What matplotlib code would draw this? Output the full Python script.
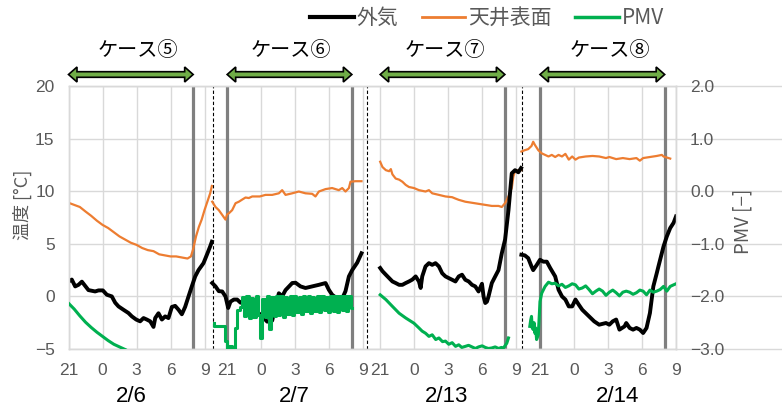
import numpy as np
import matplotlib.pyplot as plt
import matplotlib.transforms as mtransforms
from matplotlib.patches import Polygon
from matplotlib.lines import Line2D

plt.rcParams['font.family'] = ['Noto Sans CJK JP', 'DejaVu Sans']

# --- data (hours after 21:00 of each case) ---
cases = ['ケース⑤', 'ケース⑥', 'ケース⑦', 'ケース⑧']
dates = ['2/6', '2/7', '2/13', '2/14']
hour_ticks = [0, 3, 6, 9, 12]
hour_labels = ['21', '0', '3', '6', '9']

# case 5 (2/6)
t_out5 = [0, 0.29, 0.59, 0.88, 1.18, 1.47, 1.76, 2.35, 2.65, 3.03, 3.38, 3.82, 4.12, 4.41, 4.85,
          5.29, 5.59, 5.97, 6.32, 6.62, 6.91, 7.21, 7.5, 7.65, 7.94, 8.24, 8.53, 8.82, 9.12, 9.41,
          9.71, 10.0, 10.29, 10.59, 10.88, 11.18, 11.47, 11.91, 12.21, 12.5, 12.65]
out5 = [1.4, 1.6, 0.95, 1.1, 1.4, 1.0, 0.6, 0.47, 0.57, 0.57, 0.16, 0.0, -0.6, -0.95, -1.27,
        -1.58, -1.9, -2.2, -2.37, -2.06, -2.2, -2.37, -2.9, -2.06, -1.6, -2.2, -1.9, -2.06, -1.0, -0.9,
        -1.27, -1.7, -1.0, 0.0, 0.95, 1.9, 2.5, 3.16, 3.96, 4.75, 5.2]
t_ceil5 = [0, 0.5, 1.0, 1.5, 2.0, 2.5, 3.0, 3.5, 4.0, 4.5, 5.0, 5.5, 6.0, 6.5, 7.0, 7.5, 8.0,
           8.5, 9.0, 9.5, 10.0, 10.5, 10.8, 11.0, 11.25, 11.5, 11.75, 12.0, 12.25, 12.5, 12.65]
ceil5 = [8.9, 8.7, 8.5, 8.07, 7.66, 7.2, 6.8, 6.5, 6.1, 5.7, 5.4, 5.1, 4.9, 4.6, 4.4, 4.3, 4.0,
         3.9, 3.8, 3.8, 3.7, 3.6, 3.8, 4.5, 5.7, 6.6, 7.3, 8.2, 9.0, 9.8, 10.5]
t_pmv5 = [0, 0.5, 1.0, 1.5, 2.0, 2.5, 3.0, 3.5, 4.0, 4.5, 5.0]
pmv5 = [-2.13, -2.24, -2.37, -2.49, -2.59, -2.68, -2.76, -2.84, -2.91, -2.96, -3.01]

# case 6 (2/7)
t_out6 = [-1.32, -1.03, -0.74, -0.44, -0.15, 0.09, 0.29, 0.59, 0.88, 1.18, 1.47, 1.91, 2.35, 2.79,
          3.09, 3.53, 3.97, 4.26, 4.56, 4.85, 5.15, 5.74, 6.03, 6.47, 6.91, 7.5, 8.09, 8.68, 8.97,
          9.26, 9.7, 10.15, 10.44, 10.74, 11.03, 11.47, 11.85]
out6 = [1.27, 0.95, 0.5, 0.47, 0.0, -1.1, -0.5, -0.3, -0.3, -0.6, -0.4, -1.0, -1.5, -1.6,
        -1.9, -2.4, -2.3, -1.0, 0.3, 0.0, 0.6, 1.27, 1.3, 0.95, 0.8, 0.95, 1.1, 1.27, 0.63,
        0.16, -0.2, -0.2, 0.5, 1.9, 2.5, 3.2, 4.1]
t_ceil6 = [-1.32, -1.03, -0.74, -0.44, -0.15, 0.0, 0.15, 0.44, 0.74, 1.03, 1.32, 1.62, 1.91, 2.21,
           2.88, 3.38, 3.97, 4.56, 4.85, 5.15, 5.74, 6.32, 6.91, 7.5, 7.79, 8.09, 8.68, 9.26, 9.85,
           10.15, 10.44, 10.74, 10.88, 11.32, 11.85]
ceil6 = [9.0, 8.5, 8.2, 7.75, 7.3, 7.8, 7.9, 8.2, 8.86, 9.0, 9.2, 9.4, 9.35, 9.5,
         9.5, 9.65, 9.65, 9.8, 10.1, 9.65, 9.8, 9.97, 9.8, 9.75, 9.5, 9.97, 10.2, 10.3, 10.1,
         10.3, 9.97, 10.3, 10.9, 10.95, 10.95]
t_pmv6 = [-1.17, -1.1, -0.3, -0.1, 0.0, 0.3, 0.6, 0.8, 1.0,
          1.2, 1.4, 1.6, 1.8, 2.0, 2.2, 2.4, 2.6, 2.8, 3.0, 3.2, 3.4, 3.6, 3.8, 4.0, 4.2, 4.4,
          4.6, 4.8, 5.0, 5.2, 5.4, 5.6, 5.8, 6.0, 6.2, 6.4, 6.6, 6.8, 7.0, 7.2, 7.4, 7.6, 7.8,
          8.0, 8.2, 8.4, 8.6, 8.8, 9.0, 9.2, 9.4, 9.6, 9.8, 10.0, 10.2, 10.4, 10.6, 10.8, 11.0]
pmv6 = [-2.50, -2.57, -2.57, -2.85, -3.05, -2.95, -3.05, -2.6, -2.26,
        -2.20, -2.02, -2.38, -2.00, -2.42, -2.03, -2.40, -2.00, -2.36, -2.80, -2.05, -2.40, -2.00,
        -2.62, -2.02, -2.38, -2.00, -2.35, -2.00, -2.40, -2.02, -2.33, -2.00, -2.36, -2.00, -2.30,
        -2.02, -2.34, -2.00, -2.28, -2.00, -2.32, -2.01, -2.28, -2.00, -2.30, -2.00, -2.26, -2.02,
        -2.30, -2.00, -2.27, -2.00, -2.30, -2.00, -2.25, -2.00, -2.28, -2.00, -2.22]

# case 7 (2/13)
t_out7 = [0, 0.2, 0.5, 0.79, 1.08, 1.37, 1.67, 1.96, 2.25, 2.54, 2.84, 3.13, 3.42, 3.57, 3.71,
          4.0, 4.3, 4.59, 4.88, 5.18, 5.47, 5.76, 6.05, 6.35, 6.64, 6.93, 7.22, 7.51, 7.81, 8.1,
          8.39, 8.68, 8.98, 9.12, 9.27, 9.42, 9.56, 9.85, 10.15, 10.44, 10.73, 11.02, 11.32,
          11.61, 11.9, 12.19, 12.43]
out7 = [2.7, 2.4, 2.06, 1.74, 1.42, 1.27, 1.1, 1.1, 1.27, 1.42, 1.6, 1.9, 1.42, 0.8, 1.9,
        2.85, 3.16, 3.0, 3.16, 2.85, 2.2, 1.9, 1.74, 1.58, 1.42, 1.9, 2.06, 1.58, 1.42, 1.1,
        0.95, 0.47, 1.2, 0.0, -0.63, -0.5, 0.0, 1.27, 1.9, 2.5, 4.1, 5.4, 8.2,
        11.7, 12.0, 11.8, 12.2]
t_ceil7 = [0, 0.2, 0.5, 0.79, 0.94, 1.08, 1.37, 1.67, 1.96, 2.25, 2.54, 2.98, 3.42, 4.0, 4.3,
           4.59, 5.18, 5.76, 6.35, 6.64, 6.93, 7.51, 8.1, 8.68, 9.27, 9.85, 10.44, 10.73, 11.02,
           11.32, 11.61, 11.75, 11.9, 12.19, 12.43]
ceil7 = [12.8, 12.3, 12.0, 11.9, 12.1, 11.6, 11.2, 11.1, 10.9, 10.6, 10.4, 10.3, 10.1, 9.97, 10.1,
         9.8, 9.65, 9.5, 9.43, 9.3, 9.18, 9.0, 8.9, 8.8, 8.7, 8.6, 8.6, 8.5, 8.86,
         9.5, 10.3, 11.4, 11.9, 12.0, 12.0]
t_pmv7 = [0, 0.5, 1.08, 1.67, 2.25, 2.98, 3.42, 3.7, 4.0, 4.3, 4.59, 4.9, 5.18, 5.5, 5.76, 6.05,
          6.35, 6.65, 6.93, 7.2, 7.51, 7.8, 8.1, 8.4, 8.68, 9.0, 9.27, 9.55, 9.85, 10.15, 10.44,
          10.7, 10.88, 11.17, 11.32]
pmv7 = [-1.97, -2.06, -2.19, -2.32, -2.41, -2.51, -2.6, -2.66, -2.70, -2.76, -2.73, -2.82, -2.79,
        -2.86, -2.85, -2.91, -2.88, -2.95, -2.92, -2.97, -2.95, -2.93, -2.96, -2.99, -2.96, -2.94,
        -2.97, -2.99, -2.98, -2.96, -2.99, -2.97, -2.98, -2.89, -2.79]

# case 8 (2/14)
t_out8 = [-1.64, -1.34, -1.04, -0.75, -0.6, -0.3, 0, 0.3, 0.6, 0.9, 1.34, 1.64, 1.94, 2.24, 2.54,
          2.84, 3.13, 3.43, 3.73, 4.33, 4.78, 5.22, 5.82, 6.12, 6.42, 6.72, 7.01, 7.46, 7.61, 7.91,
          8.21, 8.51, 8.81, 9.1, 9.4, 9.7, 10.0, 10.3, 10.45, 10.9, 11.19, 11.49, 11.79, 12.0]
out8 = [3.96, 3.9, 3.64, 2.85, 2.5, 2.97, 3.48, 3.3, 3.3, 2.7, 1.9, 0.63, 0.0, -0.3, -0.95,
        -0.95, -0.3, -0.8, -1.27, -1.9, -2.37, -2.69, -2.53, -2.69, -2.37, -2.2, -3.16, -2.85, -2.53,
        -3.0, -3.16, -3.0, -3.16, -3.48, -3.0, -1.58, 0.95, 2.2, 2.85, 4.75, 5.7, 6.5, 7.0, 7.6]
t_ceil8 = [-1.64, -1.34, -1.04, -0.75, -0.6, -0.45, -0.15, 0.15, 0.45, 0.75, 1.04, 1.34, 1.64,
           1.94, 2.24, 2.54, 2.84, 3.13, 3.43, 3.73, 4.03, 4.63, 5.22, 5.82, 6.12, 6.72, 7.31, 7.91,
           8.51, 8.81, 9.1, 9.7, 10.3, 10.75, 10.9, 11.49]
ceil8 = [13.77, 13.9, 14.0, 14.3, 14.7, 14.4, 13.9, 13.6, 13.45, 13.3, 13.45, 13.25, 13.45,
         13.3, 13.55, 13.0, 13.3, 13.0, 13.2, 13.25, 13.3, 13.35, 13.3, 13.15, 13.25, 13.05, 13.15,
         13.05, 13.15, 12.9, 13.15, 13.25, 13.35, 13.45, 13.3, 13.1]
t_pmv8 = [-0.9, -0.82, -0.75, -0.68, -0.6, -0.52, -0.45, -0.38, -0.3, -0.15, 0.0, 0.15, 0.45, 0.75,
          1.05, 1.34, 1.64, 1.94, 2.24, 2.54, 2.84, 3.13, 3.43, 3.73, 4.03, 4.33, 4.63, 4.93, 5.22,
          5.52, 5.82, 6.12, 6.42, 6.72, 7.01, 7.31, 7.61, 7.91, 8.21, 8.51, 8.81, 9.1, 9.4, 9.7,
          10.0, 10.3, 10.6, 10.9, 11.19, 11.49, 11.79, 12.0]
pmv8 = [-2.57, -2.45, -2.38, -2.6, -2.63, -2.5, -2.7, -2.6, -2.82, -2.73, -2.1, -1.94, -1.81, -1.73,
        -1.76, -1.75, -1.80, -1.77, -1.83, -1.80, -1.76, -1.78, -1.86, -1.84, -1.80, -1.87, -1.95,
        -1.90, -1.86, -1.90, -1.98, -1.92, -1.88, -1.93, -1.99, -1.92, -1.90, -1.92, -1.96, -1.93,
        -1.88, -1.90, -1.97, -1.88, -1.92, -1.90, -1.87, -1.81, -1.90, -1.81, -1.78, -1.76]

t_out = [t_out5, t_out6, t_out7, t_out8]
outdoor = [out5, out6, out7, out8]
t_ceil = [t_ceil5, t_ceil6, t_ceil7, t_ceil8]
ceiling = [ceil5, ceil6, ceil7, ceil8]
t_pmv = [t_pmv5, t_pmv6, t_pmv7, t_pmv8]
pmv = [pmv5, pmv6, pmv7, pmv8]

# --- layout of the four cases on one time axis ---
offsets = [0, 14, 27.5, 41.6]
case_end = 11                        # 8:00
thick_marks = [11, 14, 25, 38.5, 41.6, 52.6]
separators = [12.75, 26.3, 40.0]
case_label_x = [6.1, 19.6, 33.2, 47.8]
date_x = [5.5, 19.9, 33.4, 48.4]
pmv_style = ['default', 'steps-mid', 'default', 'default']

BLACK = '#000000'
ORANGE = '#ED7D31'
GREEN = '#00B050'
ARROW = '#70AD47'
GRID = '#D9D9D9'
TEXT = '#595959'
NUMFONT = 'Liberation Sans'

W, H = 782, 416
fig = plt.figure(figsize=(W / 100, H / 100), dpi=100)
ax = fig.add_axes([68.5 / W, 1 - 349 / H, (676 - 68.5) / W, (349 - 86) / H])
ax2 = ax.twinx()

ax.set_xlim(0, 53.6)
ax.set_ylim(-5, 20)
ax2.set_ylim(-3, 2)

xt = [off + h for off in offsets for h in hour_ticks]
ax.set_xticks(xt)
ax.set_xticklabels(hour_labels * 4)
ax.set_yticks([-5, 0, 5, 10, 15, 20])
ax.set_yticklabels(['\u22125', '0', '5', '10', '15', '20'])
ax2.set_yticks([-3, -2, -1, 0, 1, 2])
ax2.set_yticklabels(['\u22123.0', '\u22122.0', '\u22121.0', '0.0', '1.0', '2.0'])

for a in (ax, ax2):
    a.tick_params(length=0, pad=10, labelsize=12.5, labelcolor=TEXT)
    for lab in a.get_xticklabels() + a.get_yticklabels():
        lab.set_family(NUMFONT)
    for s in a.spines.values():
        s.set_color(GRID)
        s.set_linewidth(1)

ax.grid(True, color=GRID, lw=1)
ax.set_axisbelow(True)

# horizontal grid runs on past the right axis
tr = mtransforms.blended_transform_factory(ax.transAxes, ax.transData)
for y in [-5, 0, 5, 10, 15, 20]:
    ax.plot([1.0, 1.0 + (W - 676) / (676 - 68.5)], [y, y], transform=tr, color=GRID, lw=1,
            clip_on=False, zorder=0)

for x in thick_marks:
    ax.axvline(x, color='#7F7F7F', lw=2.3, zorder=1.5)
for x in separators:
    ax.axvline(x, color=BLACK, lw=0.8, ls=(0, (3, 2)), zorder=1.6)

for i in range(4):
    off = offsets[i]
    ax.plot(np.array(t_ceil[i]) + off, ceiling[i], color=ORANGE, lw=1.6, zorder=3)
    ax.plot(np.array(t_out[i]) + off, outdoor[i], color=BLACK, lw=2.8, zorder=4)
    ax2.plot(np.array(t_pmv[i]) + off, pmv[i], color=GREEN, lw=2.2, zorder=5,
             drawstyle=pmv_style[i])

ax.set_zorder(1)
ax2.set_zorder(2)
ax2.patch.set_visible(False)

# double arrows marking each case window
atr = mtransforms.blended_transform_factory(ax.transData, fig.transFigure)
yc = 1 - 74.5 / H
sh = 2.8 / H
hh = 7.5 / H
hl = 0.75
for i in range(4):
    x0 = offsets[i]
    x1 = offsets[i] + case_end
    verts = [(x0, yc), (x0 + hl, yc + hh), (x0 + hl, yc + sh), (x1 - hl, yc + sh),
             (x1 - hl, yc + hh), (x1, yc), (x1 - hl, yc - hh), (x1 - hl, yc - sh),
             (x0 + hl, yc - sh), (x0 + hl, yc - hh)]
    ax.add_patch(Polygon(verts, closed=True, transform=atr, facecolor=ARROW,
                         edgecolor=BLACK, lw=1.2, clip_on=False, zorder=6))
    ax.text(case_label_x[i], 1 - 50 / H, cases[i], transform=atr, ha='center', va='center',
            fontsize=14.5, color=BLACK)
    ax.text(date_x[i], 1 - 397 / H, dates[i], transform=atr, ha='center', va='center',
            fontsize=16, color=BLACK, family=NUMFONT)

fig.text(22 / W, 1 - 205 / H, '温度 [°C]', rotation=90, ha='center', va='center',
         fontsize=13, color=TEXT)
fig.text(743 / W, 1 - 221 / H, 'PMV [\u2212]', rotation=90, ha='center', va='center',
         fontsize=13.5, color=TEXT)

handles = [Line2D([], [], color=BLACK, lw=3), Line2D([], [], color=ORANGE, lw=2),
           Line2D([], [], color=GREEN, lw=2.5)]
fig.legend(handles, ['外気', '天井表面', 'PMV'], loc='center', bbox_to_anchor=(487 / W, 1 - 18 / H),
           ncol=3, frameon=False, fontsize=15, labelcolor=TEXT, handlelength=2.1,
           handletextpad=0.15, columnspacing=1.1)

fig.savefig('out.png', dpi=100)
